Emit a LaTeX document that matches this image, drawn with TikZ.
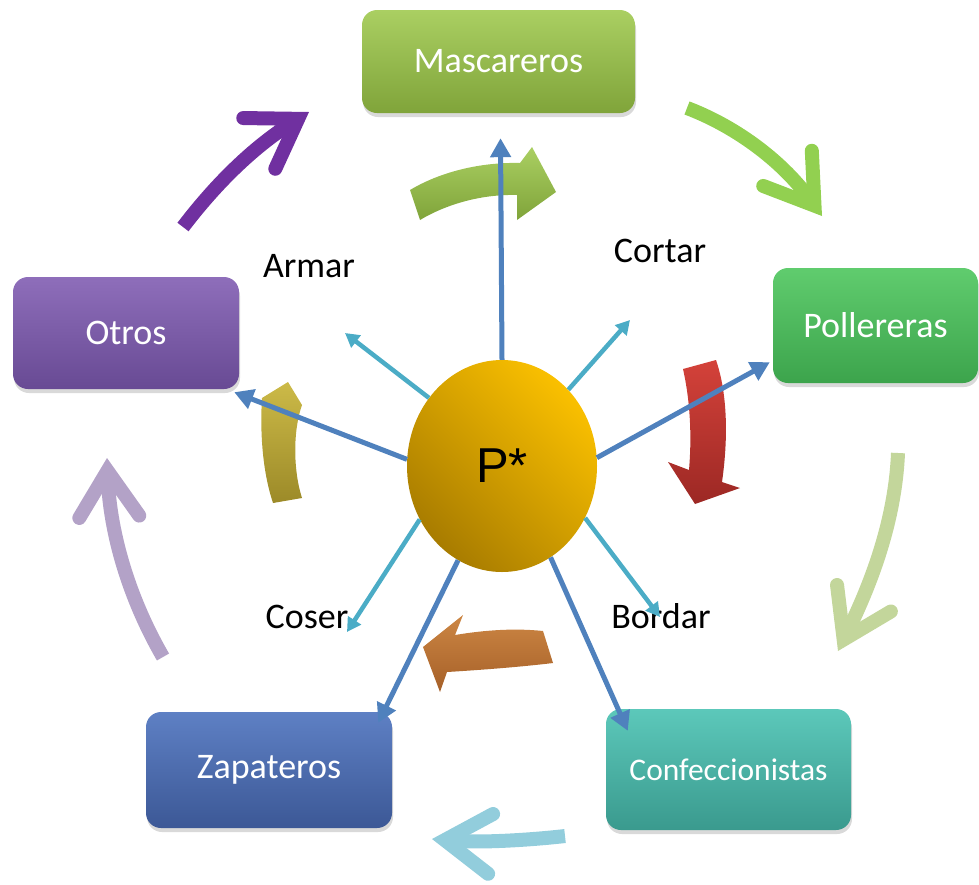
\documentclass[tikz,border=0pt]{standalone}
\usepackage{fontspec}
\setmainfont{Carlito}
\newfontfamily\arialfont{Liberation Sans}
\usetikzlibrary{arrows.meta,shapes.geometric,shadows}
\definecolor{mascTop}{RGB}{170,207,98}
\definecolor{mascBot}{RGB}{128,164,58}
\definecolor{pollTop}{RGB}{96,204,110}
\definecolor{pollBot}{RGB}{60,164,76}
\definecolor{confTop}{RGB}{92,200,186}
\definecolor{confBot}{RGB}{58,154,142}
\definecolor{zapTop}{RGB}{94,128,196}
\definecolor{zapBot}{RGB}{60,88,150}
\definecolor{otrosTop}{RGB}{142,110,186}
\definecolor{otrosBot}{RGB}{104,74,148}
\definecolor{sunTop}{RGB}{250,192,0}
\definecolor{sunBot}{RGB}{168,124,0}
\definecolor{spokeblue}{RGB}{79,129,189}
\definecolor{toolblue}{RGB}{75,172,198}
\definecolor{ringPurple}{RGB}{112,48,160}
\definecolor{ringGreen}{RGB}{146,208,80}
\definecolor{ringPale}{RGB}{195,214,155}
\definecolor{ringSky}{RGB}{146,205,220}
\definecolor{ringLilac}{RGB}{179,162,199}

\begin{document}
\begin{tikzpicture}[x=1pt,y=-1pt,
    box/.style={rounded corners=15pt,text=white,font=\fontsize{36}{40}\selectfont,
      drop shadow={shadow xshift=1pt,shadow yshift=-4pt,opacity=.3}},
    word/.style={font=\fontsize{36}{40}\selectfont,anchor=base},
    spoke/.style={draw=spokeblue,line width=5pt,-{Triangle[length=19pt,width=20pt]}},
    tool/.style={draw=toolblue,line width=4.5pt,-{Triangle[length=14pt,width=15pt]}},
    ring/.style={line width=14pt,-{Straight Barb[length=46pt,width=60pt,line cap=round,line join=miter]}}]
  \useasboundingbox (0,0) rectangle (979,884);

  \draw[ring,draw=ringPurple] (183,227) .. controls (215,185) and (252,148) .. (309,112);
  \draw[ring,draw=ringGreen] (687,108) .. controls (732,125) and (780,158) .. (822,216);
  \draw[ring,draw=ringPale] (898,453) .. controls (895,525) and (868,590) .. (838,651);
  \draw[ring,draw=ringSky] (565,836) .. controls (530,840) and (480,843) .. (432,839);
  \draw[ring,draw=ringLilac] (163,657) .. controls (130,600) and (110,535) .. (107,458);

  \node[box,minimum width=273pt,minimum height=103pt,top color=mascTop,bottom color=mascBot] (masc) at (498.5,61.5) {Mascareros};
  \node[box,minimum width=205pt,minimum height=115pt,top color=pollTop,bottom color=pollBot] (poll) at (875.5,325.5) {Pollereras};
  \node[box,minimum width=245pt,minimum height=121pt,top color=confTop,bottom color=confBot,
    font=\fontsize{31.5}{36}\selectfont] (conf) at (728.5,769.5) {Confeccionistas};
  \node[box,minimum width=246pt,minimum height=116pt,top color=zapTop,bottom color=zapBot] (zap) at (269,770) {Zapateros};
  \node[box,minimum width=226pt,minimum height=112pt,top color=otrosTop,bottom color=otrosBot] (otros) at (126,333) {Otros};

  \path[top color=mascTop,bottom color=mascBot] (410,190) .. controls (440,172) and (480,162) .. (520,163)
    -- (532,147) -- (556,192) -- (517,220) -- (517,195) .. controls (480,194) and (445,205) .. (420,220) -- cycle;
  \path[top color={rgb,255:red,212;green,66;blue,58},bottom color={rgb,255:red,156;green,40;blue,36}]
    (683,369) -- (716,360) .. controls (728,395) and (728,440) .. (722,482) -- (740,488) -- (695,504)
    -- (668,462) -- (689,470) .. controls (692,435) and (690,400) .. (683,369) -- cycle;
  \path[top color={rgb,255:red,204;green,134;blue,68},bottom color={rgb,255:red,166;green,96;blue,40}]
    (543,631) .. controls (515,628) and (485,630) .. (455,635) -- (463,615) -- (423,647) -- (440,692)
    -- (447,672) .. controls (480,670) and (520,667) .. (553,663) -- cycle;
  \path[top color={rgb,255:red,204;green,186;blue,72},bottom color={rgb,255:red,156;green,138;blue,40}]
    (273,503) .. controls (262,470) and (260,430) .. (262,398) -- (288,382) -- (302,405)
    .. controls (293,430) and (293,470) .. (302,498) -- cycle;

  \node[ellipse,minimum width=190pt,minimum height=212pt,top color=sunTop,bottom color=sunBot,
    shading angle=-45,font=\arialfont\fontsize{49}{54}\selectfont] (P) at (502,466) {P*};

  \node[word] (armar) at (309,277) {Armar};
  \node[word] (cortar) at (660,262) {Cortar};
  \node[word] (coser) at (307,628) {Coser};
  \node[word] (bordar) at (661,628) {Bordar};

  \coordinate (armarTip) at (345,333);
  \coordinate (cortarTip) at (630,320);
  \coordinate (coserTip) at (347,632);
  \coordinate (bordarTip) at (660,617);

  \draw[spoke] (P.north) -- ([xshift=2pt,yshift=-25pt]masc.south);
  \draw[spoke] (P.5) -- ([shift={(-3,-21)}]poll.south west);
  \draw[spoke] (P.298) -- ([shift={(22,22)}]conf.north west);
  \draw[spoke] (P.245) -- ([shift={(-14,11)}]zap.north east);
  \draw[spoke] (P.176) -- ([shift={(-5,3)}]otros.south east);

  \draw[tool] (P.137) -- (armarTip);
  \draw[tool] (P.49) -- (cortarTip);
  \draw[tool] (P.213) -- (coserTip);
  \draw[tool] (P.328) -- (bordarTip);
\end{tikzpicture}
\end{document}
